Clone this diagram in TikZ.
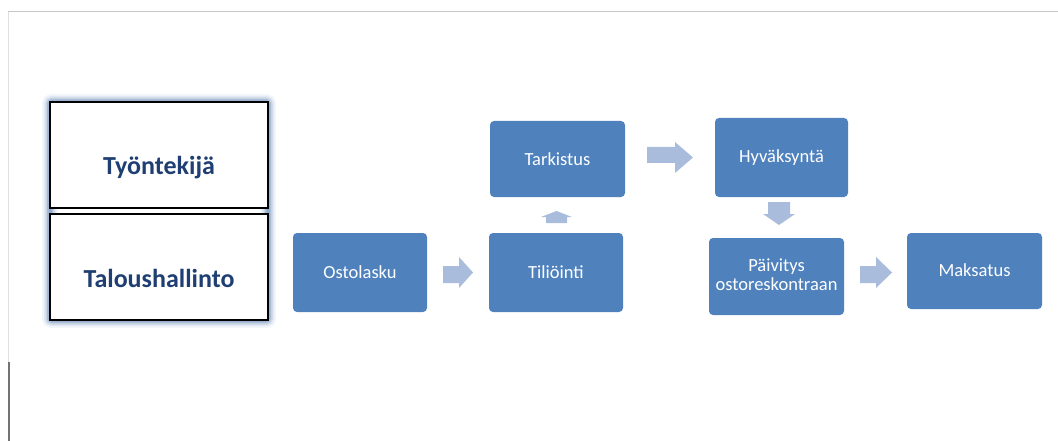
\documentclass[tikz,border=0pt]{standalone}
\usepackage{fontspec}
\setmainfont{Carlito}
\begin{document}
\begin{tikzpicture}[x=1pt,y=-1pt,
  step box/.style={fill=boxblue, rounded corners=4pt, draw=none},
  step text/.style={text=white, font=\fontsize{18.5}{19}\selectfont, align=center, inner sep=0pt},
  lane/.style={draw=black, line width=1.6pt, fill=white},
  lane text/.style={text=lanetext, font=\fontsize{26}{28}\selectfont\bfseries, inner sep=0pt},
  blockarrow/.style={fill=arrowblue, draw=none}]
\definecolor{boxblue}{HTML}{4F81BD}
\definecolor{arrowblue}{HTML}{A9BCDC}
\definecolor{lanetext}{HTML}{1F3F72}
\definecolor{glow}{HTML}{7F9CC4}
\useasboundingbox (0,0) rectangle (1058,441);
% frame lines
\draw[color=black!22, line width=1pt] (8,12) -- (1058,12);
\draw[color=black!12, line width=1pt] (8.5,12) -- (8.5,362);
\draw[color=black!55, line width=2pt] (9,362) -- (9,441);
% glow around lanes
\foreach \w/\o in {16/0.10, 12/0.15, 9/0.25, 6/0.4, 3/0.6}{
  \draw[glow, line width=\w pt, opacity=\o, rounded corners=2pt] (50,102) rectangle (268,320);
}
% lanes
\draw[lane] (50,102) rectangle (268,208);
\draw[lane] (50,214) rectangle (268,320);
\node[lane text] (emp) at (159,168) {Työntekijä};
\node[lane text] (fin) at (159,278) {Taloushallinto};
% step boxes
\path[step box] (293,233) rectangle (427,312);
\node[step text] (osto) at (360,272.5) {Ostolasku};
\path[step box] (489,233) rectangle (623,312);
\node[step text] (tili) at (556,272.5) {Tiliöinti};
\path[step box] (490,121) rectangle (625,197);
\node[step text] (tark) at (557.5,159) {Tarkistus};
\path[step box] (715,118) rectangle (848,197);
\node[step text] (hyva) at (781.5,157.5) {Hyväksyntä};
\path[step box] (709,238) rectangle (844,315);
\node[step text] (paiv) at (776.5,274.5) {Päivitys\\ostoreskontraan};
\path[step box] (907,233) rectangle (1042,309);
\node[step text] (maks) at (974.5,270) {Maksatus};
% block arrows
\fill[blockarrow] (443,266) -- (459,266) -- (459,257) -- (473,272.5) -- (459,288) -- (459,283) -- (443,283) -- cycle;
\fill[blockarrow] (546,223) -- (546,217) -- (541,217) -- (556.5,211) -- (572,217) -- (567,217) -- (567,223) -- cycle;
\fill[blockarrow] (647,147) -- (675,147) -- (675,142) -- (693,157.5) -- (675,173) -- (675,163) -- (647,163) -- cycle;
\fill[blockarrow] (768,202) -- (790,202) -- (790,214) -- (795,214) -- (779,225) -- (763,214) -- (768,214) -- cycle;
\fill[blockarrow] (860,266) -- (876,266) -- (876,257) -- (892,272.5) -- (876,288) -- (876,283) -- (860,283) -- cycle;
\end{tikzpicture}
\end{document}
